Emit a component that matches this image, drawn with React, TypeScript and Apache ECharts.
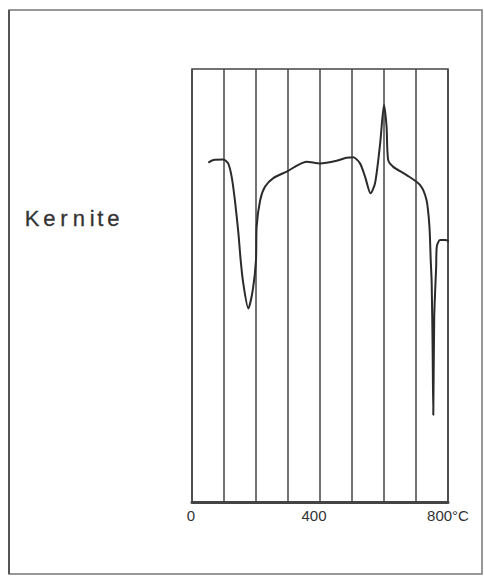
import React, { useEffect, useRef } from "react";
import * as echarts from "echarts";

const sampleName = "Kernite";
const tickValues = [0, 400, 800];
const tempUnit = "°C";
// Temperature (°C) of each traced point of the DTA curve
const temperatures = [
  51, 67, 98, 113, 124, 134, 145, 152, 160, 176, 190, 200, 202, 213, 228, 254,
  296, 358, 400, 452, 483, 504, 525, 541, 558, 572, 588, 600, 608, 613, 629,
  671, 713, 733, 742, 746, 749, 752, 754, 757, 763, 765, 775, 791, 806,
];
// Relative DTA signal (arbitrary units, 0 = bottom of frame, 100 = top)
const signal = [
  78.4, 79.0, 79.1, 78.2, 75.1, 69.7, 62.1, 55.9, 50.6, 44.7, 49.0, 55.9, 63.6,
  69.7, 72.8, 74.8, 76.3, 78.6, 78.2, 78.8, 79.5, 79.6, 78.2, 75.1, 71.3, 73.6,
  82.8, 91.7, 86.7, 79.0, 77.4, 75.5, 73.2, 69.7, 63.6, 55.9, 50.6, 35.1, 20.1,
  42.8, 54.3, 59.0, 60.5, 60.5, 60.1,
];

const letterX = [24.5, 43, 60, 72.5, 89.5, 97, 107];

export default function App() {
  const ref = useRef<HTMLDivElement>(null);
  useEffect(() => {
    if (!ref.current) return;
    const chart = echarts.init(ref.current, undefined, { renderer: "svg" });
    const data = temperatures.map((t, i) => [t, signal[i]]);
    const letters = sampleName.split("").map((ch, i) => ({
      type: "text",
      left: letterX[i],
      top: 207,
      style: {
        text: ch,
        font: "500 22px 'Liberation Sans', Arial, sans-serif",
        fill: "#333",
        stroke: "#333",
        lineWidth: 0.3,
      },
    }));
    chart.setOption({
      animation: false,
      backgroundColor: "#ffffff",
      grid: { left: 192, right: 36, top: 69, height: 433, show: true, borderColor: "#444", borderWidth: 1.5 },
      xAxis: {
        type: "value",
        min: 0,
        max: 800,
        interval: 100,
        axisLine: { show: true, lineStyle: { color: "#444", width: 3 } },
        axisTick: { show: false },
        splitLine: { show: true, lineStyle: { color: "#444", width: 1.5 } },
        axisLabel: {
          margin: 6,
          color: "#333",
          fontSize: 15,
          fontFamily: "'Liberation Sans', Arial, sans-serif",
          formatter: (v: number) => {
            if (!tickValues.includes(v)) return "";
            if (v === 800) return "{r|" + v + tempUnit + "}";
            if (v === 400) return "{m|" + v + "}";
            return "{z|" + v + "}";
          },
          rich: {
            z: { fontSize: 15, color: "#333", padding: [0, 2, 0, 0] },
            m: { fontSize: 15, color: "#333", padding: [0, 12, 0, 0] },
            r: { fontSize: 15, color: "#333", padding: [0, 0, 0, 0] },
          },
        },
      },
      yAxis: { type: "value", min: 0, max: 100, show: false, splitLine: { show: false } },
      series: [
        {
          type: "line",
          data,
          smooth: 0.25,
          showSymbol: false,
          clip: false,
          lineStyle: { color: "#2b2b2b", width: 2 },
        },
      ],
      graphic: [
        {
          type: "rect",
          shape: { x: 9, y: 10, width: 473, height: 564 },
          style: { fill: "none", stroke: "#777", lineWidth: 1.5 },
          silent: true,
        },
        {
          type: "line",
          shape: { x1: 9, y1: 10, x2: 9, y2: 574 },
          style: { stroke: "#555", lineWidth: 2 },
          silent: true,
        },
        ...letters,
      ],
    });
    return () => chart.dispose();
  }, []);
  return <div ref={ref} style={{ position: "fixed", left: 0, top: 0, width: 484, height: 576 }} />;
}
